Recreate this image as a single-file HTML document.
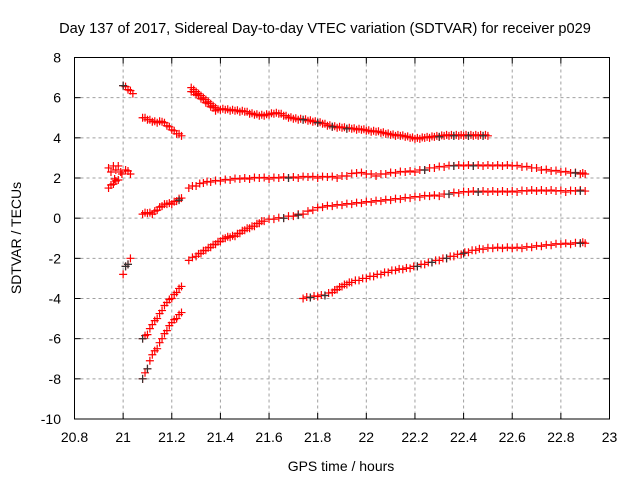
<!DOCTYPE html>
<html><head><meta charset="utf-8"><style>
body{margin:0;background:#fff}
svg{display:block;font-family:"Liberation Sans",sans-serif}
</style></head><body>
<svg id="chart" width="640" height="480" viewBox="0 0 640 480">
<text x="325" y="33" font-size="14.6" text-anchor="middle">Day 137 of 2017, Sidereal Day-to-day VTEC variation (SDTVAR) for receiver p029</text>
<text transform="translate(21,238) rotate(-90)" font-size="14" text-anchor="middle">SDTVAR / TECUs</text>
<text x="341" y="471" font-size="14" text-anchor="middle">GPS time / hours</text>
<g id="grid"></g>
<g id="ticks"></g>
<g id="red"></g>
<g id="black"></g>
<rect x="74.5" y="57.5" width="535" height="361.5" fill="none" stroke="#000" stroke-width="1"/>
</svg>
<script>
const xTicks=[20.8,21,21.2,21.4,21.6,21.8,22,22.2,22.4,22.6,22.8,23];
const xTickLabels=["20.8","21","21.2","21.4","21.6","21.8","22","22.2","22.4","22.6","22.8","23"];
const yTicks=[-10,-8,-6,-4,-2,0,2,4,6,8];
const yTickLabels=["-10","-8","-6","-4","-2","0","2","4","6","8"];
const trackA=[[21.28,6.5],[21.29,6.4],[21.30,6.3],[21.31,6.2],[21.32,6.1],[21.33,6.0],[21.34,5.9],[21.35,5.8],[21.36,5.7],[21.37,5.6],[21.38,5.5],[21.28,6.3],[21.30,6.15],[21.32,5.95],[21.34,5.75],[21.36,5.55],[21.38,5.35],[21.40,5.4],[21.42,5.4],[21.44,5.35],[21.46,5.35],[21.48,5.3],[21.50,5.3],[21.52,5.2],[21.54,5.15],[21.56,5.1],[21.58,5.1],[21.60,5.15],[21.62,5.2],[21.64,5.2],[21.66,5.1],[21.68,5.0],[21.70,4.95],[21.72,4.9],[21.74,4.9],[21.76,4.85],[21.78,4.8],[21.80,4.75],[21.82,4.7],[21.84,4.6],[21.86,4.55],[21.88,4.5],[21.90,4.5],[21.92,4.45],[21.94,4.45],[21.96,4.4],[21.98,4.4],[22.0,4.35],[22.02,4.3],[22.04,4.3],[22.06,4.25],[22.08,4.2],[22.10,4.15],[22.12,4.1],[22.14,4.1],[22.16,4.05],[22.18,4.0],[22.20,3.95],[22.22,3.95],[22.24,4.0],[22.26,4.0],[22.28,4.05],[22.30,4.05],[22.32,4.1],[22.34,4.1],[22.36,4.1],[22.38,4.1],[22.40,4.1],[22.42,4.1],[22.44,4.1],[22.46,4.1],[22.48,4.1],[22.50,4.1]];
const trackB=[[21.08,5.0],[21.10,4.9],[21.12,4.8],[21.14,4.75],[21.16,4.8],[21.18,4.6],[21.20,4.4],[21.22,4.2],[21.24,4.1]];
const trackC=[[21.00,6.6],[21.02,6.4],[21.04,6.2]];
const trackD=[[20.94,2.5],[20.95,2.3],[20.96,2.6],[20.97,2.4],[20.98,2.6],[20.99,2.3],[20.94,1.5],[20.96,1.7],[20.98,1.9],[21.01,2.4],[21.03,2.2]];
const trackE=[[21.08,0.2],[21.10,0.25],[21.12,0.2],[21.14,0.4],[21.16,0.6],[21.18,0.7],[21.20,0.7],[21.22,0.85],[21.24,1.0]];
const trackF=[[21.27,1.5],[21.30,1.6],[21.33,1.75],[21.36,1.8],[21.40,1.85],[21.44,1.9],[21.48,1.95],[21.52,1.95],[21.56,2.0],[21.60,1.95],[21.64,2.0],[21.68,2.0],[21.72,2.0],[21.76,2.05],[21.80,2.0],[21.84,2.05],[21.88,2.0],[21.92,2.1],[21.96,2.25],[22.00,2.2],[22.04,2.1],[22.08,2.2],[22.12,2.25],[22.16,2.3],[22.20,2.3],[22.24,2.4],[22.28,2.5],[22.32,2.55],[22.36,2.6],[22.40,2.6],[22.44,2.6],[22.48,2.6],[22.52,2.6],[22.56,2.6],[22.60,2.6],[22.64,2.55],[22.68,2.5],[22.72,2.4],[22.76,2.35],[22.80,2.3],[22.84,2.25],[22.88,2.2],[22.90,2.2]];
const trackG=[[21.27,-2.1],[21.30,-1.9],[21.32,-1.75],[21.34,-1.6],[21.36,-1.45],[21.38,-1.3],[21.40,-1.15],[21.42,-1.0],[21.44,-0.95],[21.46,-0.9],[21.48,-0.75],[21.50,-0.6],[21.52,-0.5],[21.54,-0.4],[21.56,-0.25],[21.58,-0.15],[21.62,-0.05],[21.66,0.0],[21.70,0.1],[21.74,0.2],[21.78,0.4],[21.82,0.55],[21.86,0.6],[21.90,0.65],[21.94,0.7],[21.98,0.75],[22.02,0.8],[22.06,0.85],[22.10,0.9],[22.14,0.95],[22.18,1.0],[22.22,1.05],[22.26,1.1],[22.30,1.1],[22.34,1.2],[22.38,1.25],[22.42,1.3],[22.46,1.3],[22.50,1.3],[22.54,1.3],[22.58,1.3],[22.62,1.3],[22.66,1.35],[22.70,1.35],[22.74,1.35],[22.78,1.35],[22.82,1.3],[22.86,1.35],[22.90,1.35]];
const trackH=[[21.74,-4.0],[21.77,-3.95],[21.80,-3.9],[21.83,-3.85],[21.86,-3.7],[21.88,-3.55],[21.90,-3.4],[21.92,-3.3],[21.94,-3.2],[21.97,-3.1],[22.00,-3.0],[22.03,-2.9],[22.06,-2.8],[22.09,-2.7],[22.12,-2.6],[22.15,-2.55],[22.18,-2.5],[22.21,-2.4],[22.24,-2.3],[22.27,-2.2],[22.30,-2.1],[22.33,-2.0],[22.36,-1.9],[22.39,-1.8],[22.42,-1.7],[22.45,-1.6],[22.48,-1.55],[22.52,-1.5],[22.56,-1.5],[22.60,-1.5],[22.64,-1.5],[22.68,-1.45],[22.72,-1.4],[22.76,-1.35],[22.80,-1.3],[22.84,-1.3],[22.88,-1.25],[22.90,-1.25]];
const trackI=[[21.00,-2.8],[21.01,-2.4],[21.02,-2.3],[21.03,-2.0]];
const trackJ=[[21.08,-6.0],[21.10,-5.8],[21.12,-5.3],[21.14,-5.0],[21.16,-4.6],[21.18,-4.2],[21.20,-4.0],[21.22,-3.7],[21.24,-3.4]];
const trackK=[[21.08,-8.0],[21.10,-7.5],[21.12,-6.8],[21.14,-6.5],[21.16,-6.0],[21.18,-5.6],[21.20,-5.2],[21.22,-5.0],[21.24,-4.7]];
const blackPts=[[21.0,6.6],[21.01,-2.4],[21.02,-2.3],[21.08,-8.0],[21.10,-7.5],[21.08,-6.0],[21.23,0.9],[21.74,4.9],[21.80,4.75],[21.86,4.55],[21.92,4.45],[22.30,4.05],[22.36,4.1],[22.42,4.1],[22.48,4.1],[21.68,2.0],[22.24,2.4],[22.36,2.6],[22.44,2.6],[22.86,2.25],[21.66,0.0],[21.72,0.15],[22.34,1.2],[22.46,1.3],[22.88,1.35],[21.77,-3.95],[21.83,-3.85],[22.21,-2.4],[22.27,-2.2],[22.33,-2.0],[22.40,-1.75],[22.88,-1.25]];
const X0=20.8,X1=23,Y0=-10,Y1=8,L=74.5,R=609.5,T=57.5,B=419;
const sx=v=>L+(v-X0)/(X1-X0)*(R-L);
const sy=v=>B-(v-Y0)/(Y1-Y0)*(B-T);
const NS="http://www.w3.org/2000/svg";
function mk(tag,attrs,parent){const e=document.createElementNS(NS,tag);for(const k in attrs)e.setAttribute(k,attrs[k]);parent.appendChild(e);return e;}
const grid=document.getElementById('grid'),ticks=document.getElementById('ticks');
xTicks.forEach((t,i)=>{const x=sx(t);
 if(i>0&&i<xTicks.length-1){const g=mk('line',{x1:x,x2:x,y1:T,y2:B,stroke:'#a0a0a0','stroke-dasharray':'3,3'},grid);
 
 }
 mk('line',{x1:x,x2:x,y1:B,y2:B-6,stroke:'#000'},ticks);mk('line',{x1:x,x2:x,y1:T,y2:T+6,stroke:'#000'},ticks);
 const tx=mk('text',{x:x,y:442,'font-size':14,'text-anchor':'middle'},ticks);tx.textContent=xTickLabels[i];
 
 });
yTicks.forEach((t,i)=>{const y=sy(t);
 if(i>0&&i<yTicks.length-1){const g=mk('line',{x1:L,x2:R,y1:y,y2:y,stroke:'#a0a0a0','stroke-dasharray':'3,3'},grid);
 
 }
 mk('line',{x1:L,x2:L+6,y1:y,y2:y,stroke:'#000'},ticks);mk('line',{x1:R,x2:R-6,y1:y,y2:y,stroke:'#000'},ticks);
 const tx=mk('text',{x:61,y:y+5,'font-size':14,'text-anchor':'end'},ticks);tx.textContent=yTickLabels[i];
 
 });
function cross(p,col,parent,name){const x=sx(p[0]),y=sy(p[1]);
 const e=mk('path',{d:`M${x-4},${y}H${x+4}M${x},${y-4}V${y+4}`,stroke:col,'stroke-width':1.2,fill:'none'},parent);
 
 }
const black=document.getElementById('black'),red=document.getElementById('red');
blackPts.forEach(p=>cross(p,'#333',black,'black-marker'));
[trackA,trackB,trackC,trackD,trackE,trackF,trackG,trackH,trackI,trackJ,trackK].forEach(tr=>{
 tr.forEach((p,i)=>{cross(p,'#f00',red,'red-marker');
  if(i<tr.length-1){const q=tr[i+1];if(Math.abs(q[0]-p[0])>0.015&&Math.abs(q[0]-p[0])<0.05)cross([(p[0]+q[0])/2,(p[1]+q[1])/2+0.05],'#f00',red,'red-marker');}
 });});
</script>
</body></html>
